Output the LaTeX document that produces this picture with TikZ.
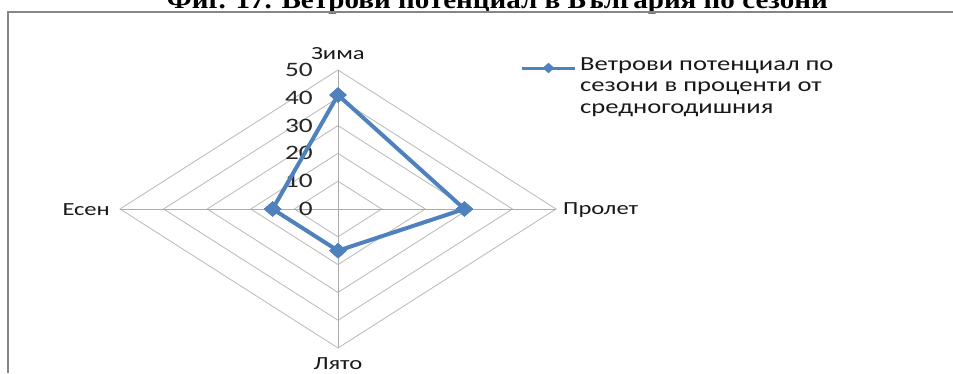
\documentclass[tikz,border=0pt]{standalone}
\usepackage{fontspec}
\usepackage{graphicx}
\setmainfont{Carlito}
\newfontfamily\lab[FakeStretch=1.33]{Carlito}
\newfontfamily\ttl{Liberation Serif}
\usetikzlibrary{shapes.geometric}
\definecolor{serblue}{RGB}{79,129,189}
\definecolor{gridgray}{RGB}{190,190,190}
\definecolor{framegray}{RGB}{134,134,134}
\tikzset{
  ring/.style={draw=gridgray, line width=0.9pt},
  spoke/.style={draw=gridgray!90!black, line width=0.9pt},
  datamark/.style={diamond, fill=serblue, draw=serblue, minimum width=17pt, minimum height=15pt, inner sep=0pt},
  legmark/.style={diamond, fill=serblue, draw=serblue, minimum width=11pt, minimum height=10pt, inner sep=0pt},
  dataline/.style={draw=serblue, line width=4pt, line join=miter},
  catlab/.style={font=\lab\fontsize{18.5}{21}\selectfont, text=black!90, inner sep=0pt},
  numlab/.style={font=\lab\fontsize{20.5}{23}\selectfont, text=black!85, inner sep=0pt, anchor=east},
  legtext/.style={font=\lab\fontsize{20}{21.5}\selectfont, text=black!90, align=left, inner sep=0pt, anchor=north west},
  frame/.style={draw=framegray, line width=2pt}
}
\begin{document}
\begin{tikzpicture}[x=1pt,y=-1pt]
\useasboundingbox (0,0) rectangle (953,373);
% title (cut at top, as in the reference)
\node[font=\ttl\bfseries\fontsize{26}{30}\selectfont, anchor=base, inner sep=0pt] (title) at (497.5,8) {\resizebox{661pt}{\height}{Фиг. 17. Ветрови потенциал в България по сезони}};
% frame
\coordinate (ftl) at (8,12);
\coordinate (ftr) at (953,12);
\coordinate (fbl) at (8,373);
\draw[frame] (ftr) -- (ftl) -- (fbl);
% centre
\coordinate (c) at (338,209);
% rings
\foreach \r in {1,...,5}{
  \draw[ring] (338,{209-27.8*\r}) -- ({338+43.6*\r},209) -- (338,{209+27.8*\r}) -- ({338-43.6*\r},209) -- cycle;
}
% spokes
\coordinate (top) at (338,70);
\coordinate (right) at (556,209);
\coordinate (bottom) at (338,348);
\coordinate (left) at (120,209);
\draw[spoke] (c) -- (top);
\draw[spoke] (c) -- (right);
\draw[spoke] (c) -- (bottom);
\draw[spoke] (c) -- (left);
% axis numbers
\foreach \v [count=\i from 0] in {0,10,20,30,40,50}{
  \node[numlab] (n\i) at (313,{209-27.8*\i}) {\v};
}
% category labels
\node[catlab] (lz) at (338,54) {Зима};
\node[catlab, anchor=west] (lp) at (563,210) {Пролет};
\node[catlab] (ll) at (338,364) {Лято};
\node[catlab, anchor=east] (le) at (110,210) {Есен};
% data
\node[datamark] (w) at (338,95) {};
\node[datamark] (sp) at (464.4,209) {};
\node[datamark] (su) at (338,250.7) {};
\node[datamark] (au) at (272.6,209) {};
\draw[dataline] (w.center) -- (sp.center) -- (su.center) -- (au.center) -- cycle;
\node[datamark] at (w) {};
\node[datamark] at (sp) {};
\node[datamark] at (su) {};
\node[datamark] at (au) {};
% legend
\coordinate (l1) at (522,68);
\coordinate (l2) at (575,68);
\draw[draw=serblue, line width=3pt] (l1) -- (l2);
\node[legmark] (lm) at (548.5,68) {};
\node[legtext] (lt) at (580,57) {Ветрови потенциал по\\сезони в проценти от\\средногодишния};
\end{tikzpicture}
\end{document}
